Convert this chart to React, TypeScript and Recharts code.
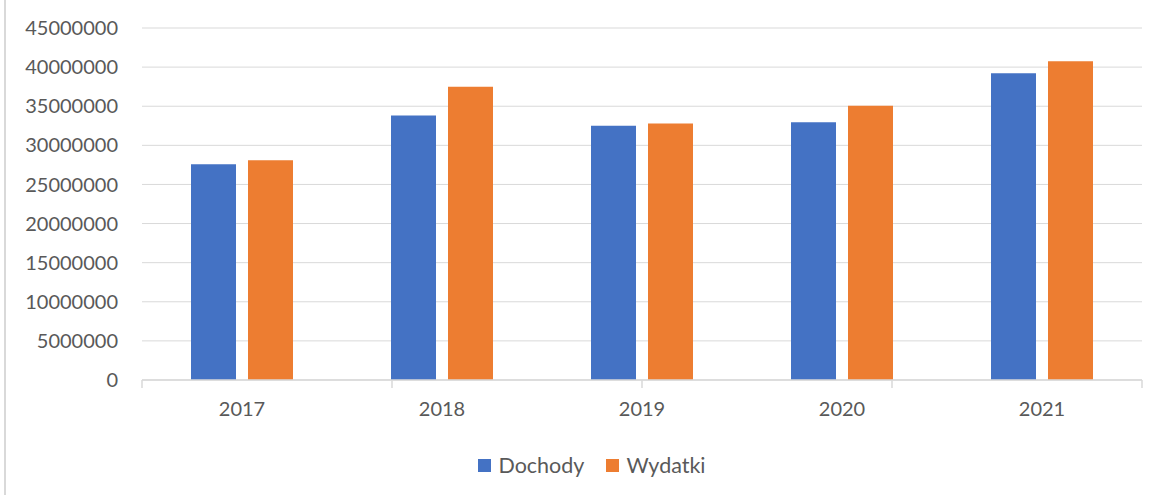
import React from "react";
import { BarChart, Bar, XAxis, YAxis, CartesianGrid, Legend } from "recharts";

const years = ["2017", "2018", "2019", "2020", "2021"];
const dochody = [27580000, 33800000, 32500000, 32950000, 39200000];
const wydatki = [28100000, 37500000, 32800000, 35050000, 40750000];
const yTicks = [0, 5000000, 10000000, 15000000, 20000000, 25000000, 30000000, 35000000, 40000000, 45000000];
const boundaryTicks = [0, 1, 2, 3, 4, 5];
const seriesNames = ["Dochody", "Wydatki"];
const colors = ["#4472C4", "#ED7D31"];

const data = years.map((y, i) => ({ year: y, Dochody: dochody[i], Wydatki: wydatki[i] }));

const FONT = "Lato, 'Open Sans', sans-serif";
const TEXT = "#595959";
const GRID = "#d9d9d9";

const LegendContent = () => (
  <div style={{ display: "flex", justifyContent: "center", alignItems: "center", paddingTop: 22, paddingLeft: 42, fontFamily: FONT, fontSize: 21.5, color: TEXT }}>
    {seriesNames.map((n, i) => (
      <div key={n} style={{ display: "flex", alignItems: "center", marginLeft: i === 0 ? 0 : 22 }}>
        <span style={{ display: "inline-block", width: 13, height: 13, background: colors[i], marginRight: 7 }} />
        <span>{n}</span>
      </div>
    ))}
  </div>
);

const NoTick = () => null;

export default function App() {
  return (
    <div style={{ position: "relative", width: 1160, height: 495, background: "#fff" }}>
      <style>{"body{margin:0;background:#fff}"}</style>
      <div style={{ position: "absolute", left: 4, top: 0, width: 2, height: 495, background: GRID }} />
      <BarChart
        width={1160}
        height={495}
        data={data}
        margin={{ top: 28, right: 18, left: 0, bottom: 0 }}
        barCategoryGap={49}
        barGap={12}
      >
        <CartesianGrid vertical={false} stroke={GRID} strokeWidth={1} />
        <XAxis
          xAxisId="grid"
          type="number"
          domain={[0, 5]}
          ticks={boundaryTicks}
          tick={<NoTick />}
          tickFormatter={() => ""}
          height={1}
          tickSize={8}
          axisLine={{ stroke: GRID, strokeWidth: 1.5 }}
          tickLine={{ stroke: GRID, strokeWidth: 1.5 }}
          allowDataOverflow
        />
        <XAxis
          xAxisId="main"
          dataKey="year"
          height={49}
          axisLine={false}
          tickLine={false}
          tickSize={0}
          tickMargin={21}
          tick={{ fill: TEXT, fontSize: 20, fontFamily: FONT }}
        />
        <YAxis
          width={142}
          domain={[0, 45000000]}
          ticks={yTicks}
          interval={0}
          axisLine={false}
          tickLine={false}
          tickSize={0}
          tickMargin={24}
          tick={{ fill: TEXT, fontSize: 20, fontFamily: FONT }}
        />
        <Legend verticalAlign="bottom" height={65} content={<LegendContent />} />
        <Bar xAxisId="main" dataKey="Dochody" fill={colors[0]} isAnimationActive={false} />
        <Bar xAxisId="main" dataKey="Wydatki" fill={colors[1]} isAnimationActive={false} />
      </BarChart>
    </div>
  );
}
